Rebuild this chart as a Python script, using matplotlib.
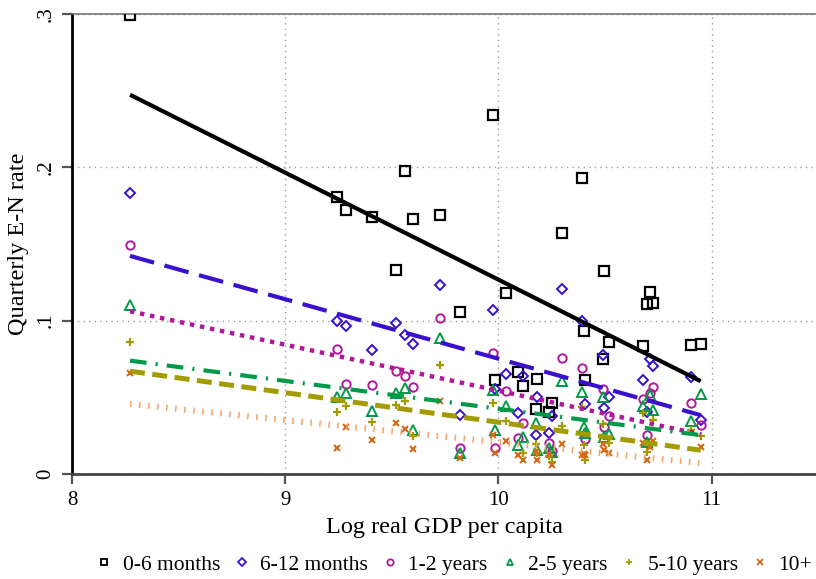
import numpy as np
import matplotlib
matplotlib.use("Agg")
import matplotlib.pyplot as plt
from matplotlib.lines import Line2D

nan = np.nan

# Log real GDP per capita, one value per country
log_gdp = [8.272, 9.242, 9.285, 9.406, 9.519, 9.561, 9.599, 9.725, 9.819, 9.973,
           9.985, 10.035, 10.091, 10.114, 10.175, 10.180, 10.236, 10.250, 10.297, 10.391,
           10.400, 10.405, 10.489, 10.494, 10.518, 10.677, 10.696, 10.710, 10.724, 10.902,
           10.949]

rate_0_6m = [0.2995, 0.1807, 0.1722, 0.1676, 0.1331, 0.1977, 0.1663, 0.1690, 0.1057, 0.2342,
             0.0613, 0.1181, 0.0665, 0.0574, 0.0424, 0.0620, 0.0404, 0.0463, 0.1572, 0.1931,
             0.0933, 0.0613, 0.0750, 0.1324, 0.0861, 0.0835, 0.1109, 0.1187, 0.1115, 0.0841,
             0.0848]

rate_6_12m = [0.1833, 0.0998, 0.0965, 0.0809, 0.0985, 0.0907, 0.0848, 0.1233, 0.0385, 0.1070,
              0.0554, 0.0652, 0.0398, 0.0639, 0.0254, 0.0502, 0.0267, 0.0378, 0.1207, 0.0998,
              nan, 0.0457, 0.0776, 0.0431, 0.0502, 0.0613, 0.0404, 0.0750, 0.0704, 0.0633,
              0.0352]

rate_1_2y = [0.1494, 0.0815, 0.0587, 0.0581, 0.0672, 0.0639, 0.0568, 0.1018, 0.0170, 0.0789,
             0.0170, 0.0541, 0.0235, 0.0333, nan, nan, 0.0202, 0.0150, 0.0757, 0.0691,
             nan, 0.0228, 0.0554, 0.0307, 0.0378, 0.0489, 0.0254, 0.0528, 0.0568, 0.0463,
             0.0320]

rate_2_5y = [0.1102, 0.0502, 0.0528, 0.0411, 0.0528, 0.0561, 0.0287, 0.0887, 0.0137, 0.0548,
             0.0287, 0.0444, 0.0189, 0.0241, 0.0333, 0.0157, 0.0170, 0.0144, 0.0607, 0.0535,
             0.0307, 0.0267, 0.0502, 0.0241, 0.0261, 0.0444, 0.0209, 0.0515, 0.0417, 0.0346,
             0.0522]

rate_5_10y = [0.0861, 0.0404, 0.0444, 0.0339, 0.0450, 0.0476, 0.0248, 0.0711, nan, 0.0463,
              nan, 0.0346, nan, 0.0137, 0.0196, 0.0137, 0.0117, 0.0078, 0.0313, 0.0437,
              0.0189, 0.0091, 0.0326, nan, 0.0202, 0.0398, 0.0144, nan, 0.0352, 0.0287,
              0.0248]

rate_10p = [0.0659, 0.0170, 0.0307, 0.0222, 0.0333, 0.0294, 0.0163, 0.0476, 0.0104, 0.0254,
            0.0137, 0.0215, 0.0124, 0.0091, 0.0144, 0.0091, 0.0130, 0.0059, 0.0196, 0.0124,
            0.0130, 0.0124, 0.0196, 0.0157, 0.0137, 0.0202, 0.0091, 0.0176, 0.0215, nan,
            0.0176]

series_labels = ["0-6 months", "6-12 months", "1-2 years", "2-5 years", "5-10 years", "10+"]
x_ticks = [8, 9, 10, 11]
y_ticks = [0, 0.1, 0.2, 0.3]
y_tick_labels = ["0", ".1", ".2", ".3"]

plt.rcParams["font.family"] = ["Liberation Serif", "DejaVu Serif"]

fig = plt.figure(figsize=(8.16, 5.79), dpi=100)
ax = fig.add_axes([72 / 816, 105 / 579, 744 / 816, 460 / 579])

all_series = [rate_0_6m, rate_6_12m, rate_1_2y, rate_2_5y, rate_5_10y, rate_10p]
colors = ["#000000", "#3a10cc", "#b0189c", "#009a48", "#a39c00", "#d46a1c"]
line_colors = ["#000000", "#3a10cc", "#b0189c", "#009a48", "#a39c00", "#f2a66e"]
markers = ["s", "D", "o", "^", "+", "x"]
msizes = [6.5, 5.5, 6, 7, 6, 4]
mews = [1.6, 1.4, 1.4, 1.4, 1.6, 1.5]
line_styles = [
    dict(ls="-", lw=3.0),
    dict(ls=(0, (6, 2.6)), lw=3.0),
    dict(ls=(0, (1, 1.3)), lw=3.2),
    dict(ls=(0, (4, 2.2, 0.5, 2.2)), lw=3.0),
    dict(ls=(0, (3, 1.5)), lw=3.6),
    dict(ls=(0, (0.25, 1.2)), lw=4.5),
]

xarr = np.array(log_gdp)
for vals, c, m, ms, mew in zip(all_series, colors, markers, msizes, mews):
    y = np.array(vals)
    if m in ("+", "x"):
        ax.plot(xarr, y, ls="none", marker=m, ms=ms, mew=mew, color=c, zorder=3)
    else:
        ax.plot(xarr, y, ls="none", marker=m, ms=ms, mew=mew, mec=c, mfc="none", zorder=3)

for vals, lc, st in zip(all_series, line_colors, line_styles):
    y = np.array(vals)
    ok = ~np.isnan(y)
    b, a = np.polyfit(xarr[ok], y[ok], 1)
    xx = np.array([xarr[ok].min(), xarr[ok].max()])
    ax.plot(xx, a + b * xx, color=lc, solid_capstyle="butt", dash_capstyle="butt", zorder=4, **st)

ax.set_xlim(8, 11.49)
ax.set_ylim(0, 0.3)
ax.set_xticks(x_ticks)
ax.set_xticklabels([str(t) for t in x_ticks], fontsize=15)
ax.set_yticks(y_ticks)
ax.set_yticklabels(y_tick_labels, fontsize=15, rotation=90, va="center")
ax.grid(True, ls=(0, (1, 3)), color="#9a9a9a", lw=1.0)
ax.tick_params(axis="both", length=7, width=1.6, color="#555555", direction="out", pad=5)
ax.spines["right"].set_visible(False)
ax.spines["top"].set_color("#777777")
ax.spines["top"].set_linewidth(1.2)
ax.spines["left"].set_linewidth(2.0)
ax.spines["bottom"].set_linewidth(2.0)
ax.spines["bottom"].set_color("#444444")
ax.set_xlabel("Log real GDP per capita", fontsize=17.5, labelpad=5)
ax.set_ylabel("Quarterly E-N rate", fontsize=17.5, labelpad=5)

handles = []
for lab, c, m, mew in zip(series_labels, colors, markers, mews):
    if m in ("+", "x"):
        h = Line2D([], [], ls="none", marker=m, ms=4, mew=1.3, color=c)
    else:
        h = Line2D([], [], ls="none", marker=m, ms=4.5, mew=1.3, mec=c, mfc="none")
    handles.append(h)
fig.legend(handles, series_labels, loc="center", bbox_to_anchor=(0.556, 0.025), ncol=6,
           frameon=False, fontsize=15.5, handlelength=0.8, handletextpad=0.45,
           columnspacing=0.62, borderaxespad=0)

fig.savefig("out.png", dpi=100)
